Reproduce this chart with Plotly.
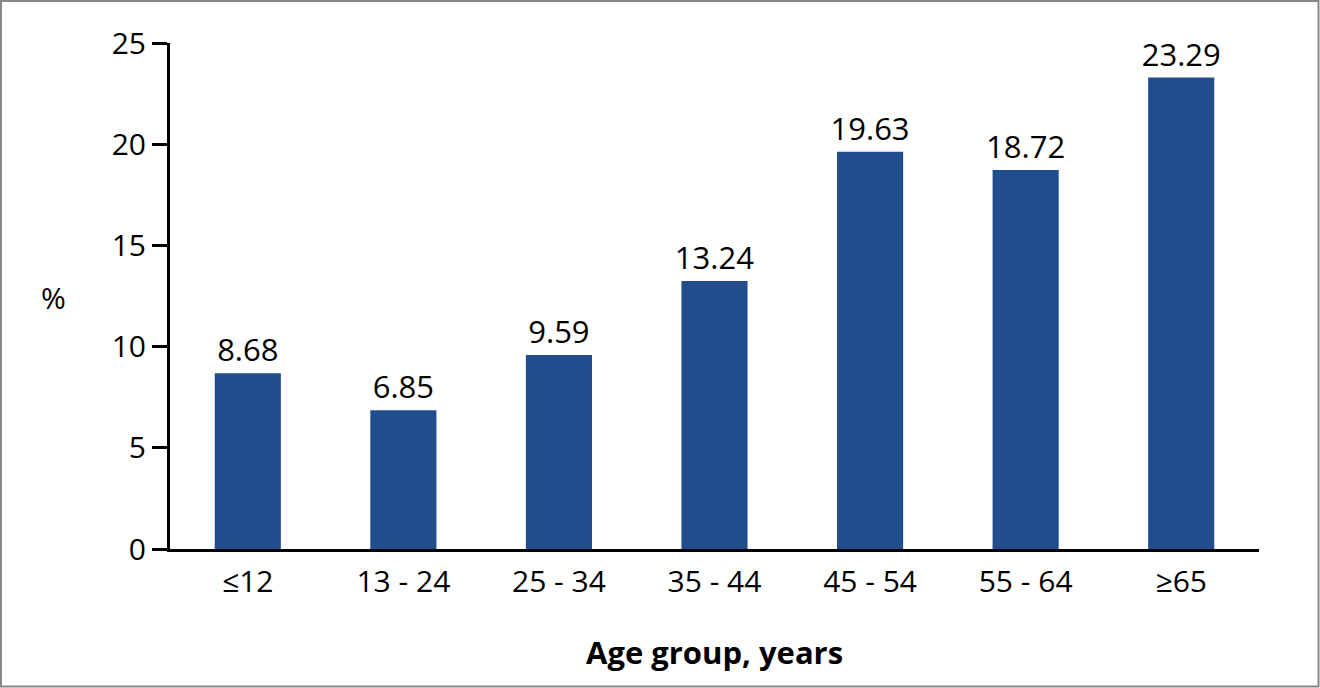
import plotly.graph_objects as go

age_groups = ['≤12', '13 - 24', '25 - 34', '35 - 44', '45 - 54', '55 - 64', '≥65']
percent = [8.68, 6.85, 9.59, 13.24, 19.63, 18.72, 23.29]
labels = ['8.68', '6.85', '9.59', '13.24', '19.63', '18.72', '23.29']

bar_color = '#214d8c'
font_family = 'Open Sans, Lato, sans-serif'

# plot area in pixels
W, H = 1320, 688
left, right, top, bottom = 170, 1259, 43, 549
pw, ph = right - left, bottom - top

fig = go.Figure()
fig.add_trace(go.Bar(
    x=age_groups,
    y=percent,
    text=labels,
    textposition='outside',
    constraintext='none',
    cliponaxis=False,
    marker=dict(color=bar_color, line=dict(width=0)),
    textfont=dict(size=31, color='black', family=font_family),
))

fig.update_layout(
    width=W,
    height=H,
    margin=dict(l=left, r=W - right, t=top, b=H - bottom, pad=0),
    plot_bgcolor='white',
    paper_bgcolor='white',
    bargap=0.575,
    showlegend=False,
    font=dict(family=font_family, size=30, color='black'),
)

fig.update_yaxes(
    range=[0, 25],
    tickvals=[0, 5, 10, 15, 20, 25],
    showgrid=False,
    zeroline=False,
    showline=True,
    linecolor='black',
    linewidth=3,
    ticks='outside',
    ticklen=15,
    tickwidth=3,
    tickcolor='black',
    tickfont=dict(size=30),
)

fig.update_xaxes(
    showgrid=False,
    showline=True,
    linecolor='black',
    linewidth=3,
    ticks='',
    tickfont=dict(size=30),
    ticklabelstandoff=4,
)

# "%" label and axis title
fig.add_annotation(
    text='%', x=(53 - left) / pw, y=(bottom - 297) / ph,
    xref='paper', yref='paper', xanchor='center', yanchor='middle',
    showarrow=False, font=dict(size=30),
)
fig.add_annotation(
    text='<b>Age group, years</b>', x=(714 - left) / pw, y=(bottom - 652) / ph,
    xref='paper', yref='paper', xanchor='center', yanchor='middle',
    showarrow=False, font=dict(size=31),
)

# grey frame round the whole picture
fig.add_shape(
    type='rect', xref='paper', yref='paper',
    x0=(1 - left) / pw, x1=(W - 1.5 - left) / pw,
    y0=(bottom - (H - 1.5)) / ph, y1=(bottom - 1) / ph,
    line=dict(color='#888888', width=2), layer='below',
)

fig.write_html(
    'out.html',
    config={'displayModeBar': False},
    post_script="document.body.style.margin='0';",
)
